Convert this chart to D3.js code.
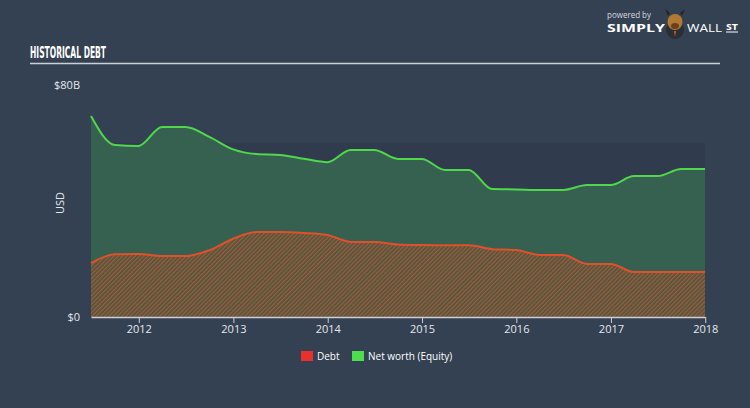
<!DOCTYPE html>
<html><head><meta charset="utf-8">
<script src="https://cdn.jsdelivr.net/npm/d3@7"></script>
<style>
html,body{margin:0;padding:0;background:#344152;}
svg{display:block;}
text{font-family:"Open Sans","DejaVu Sans",sans-serif;}
</style></head>
<body>
<svg id="c" width="750" height="408"></svg>
<script>
const dates = ["2011-06-30","2011-09-30","2011-12-31","2012-03-31","2012-06-30","2012-09-30","2012-12-31",
"2013-03-31","2013-06-30","2013-09-30","2013-12-31","2014-03-31","2014-06-30","2014-09-30","2014-12-31",
"2015-03-31","2015-06-30","2015-09-30","2015-12-31","2016-03-31","2016-06-30","2016-09-30","2016-12-31",
"2017-03-31","2017-06-30","2017-09-30","2017-12-31"];
const netWorth = [69.3,59.3,59.0,65.5,65.5,62.1,57.8,56.2,55.9,54.6,53.4,57.6,57.6,54.5,54.5,
50.7,50.7,44.1,44.0,43.8,43.8,45.5,45.5,48.6,48.6,51.0,51.0];
const debt = [18.6,21.6,21.7,21.0,21.0,23.0,27.0,29.3,29.3,29.0,28.3,25.9,25.9,25.0,24.8,
24.7,24.7,23.4,23.1,21.4,21.4,18.3,18.3,15.5,15.5,15.5,15.5];
const yTicks = [0, 80];
const yTickLabels = ["$0", "$80B"];
const xTickYears = [2012,2013,2014,2015,2016,2017,2018];
const seriesNames = ["Debt", "Net worth (Equity)"];

const svg = d3.select("#c");
const parse = d3.timeParse("%Y-%m-%d");
const rows = dates.map((d,i)=>({date:parse(d), nw:netWorth[i], debt:debt[i]}));

const x = d3.scaleTime().domain([parse("2011-06-30"), parse("2017-12-31")]).range([91, 705]);
const y = d3.scaleLinear().domain([0, 80]).range([317, 85]);

const defs = svg.append("defs");
const pat = defs.append("pattern").attr("id","hatch").attr("patternUnits","userSpaceOnUse")
  .attr("width",3).attr("height",3).attr("patternTransform","rotate(45)");
pat.append("rect").attr("width",3).attr("height",3).attr("fill","#3e5d48");
pat.append("rect").attr("width",1.3).attr("height",3).attr("fill","#b4532f");

// subtle plot band
svg.append("rect").attr("x",x.range()[0]).attr("width",x.range()[1]-x.range()[0])
  .attr("y",143).attr("height",y(0)-143).attr("fill","#303c4d");

// title
svg.append("text").attr("x",30).attr("y",58).text("HISTORICAL DEBT")
  .attr("fill","#ffffff").attr("font-size",15).attr("font-weight","bold")
  .style("font-family","'Liberation Sans Narrow','DejaVu Sans Condensed',sans-serif")
  .attr("textLength",76).attr("lengthAdjust","spacingAndGlyphs");
svg.append("line").attr("x1",30).attr("x2",720).attr("y1",63.5).attr("y2",63.5)
  .attr("stroke","#c9d0d8").attr("stroke-width",1.5);

// logo
const logo = svg.append("g");
logo.append("text").attr("x",607).attr("y",18).text("powered by").attr("fill","#d6dae0").attr("font-size",8.5)
  .attr("textLength",44).attr("lengthAdjust","spacingAndGlyphs");
logo.append("text").attr("x",607).attr("y",32).text("SIMPLY").attr("fill","#ffffff").attr("font-size",11).attr("font-weight","bold")
  .attr("textLength",58).attr("lengthAdjust","spacingAndGlyphs");
logo.append("text").attr("x",687).attr("y",32).text("WALL").attr("fill","#ffffff").attr("font-size",11)
  .attr("textLength",35).attr("lengthAdjust","spacingAndGlyphs");
logo.append("text").attr("x",726).attr("y",30).text("ST").attr("fill","#ffffff").attr("font-size",8).attr("font-weight","bold")
  .attr("textLength",12).attr("lengthAdjust","spacingAndGlyphs");
logo.append("line").attr("x1",726).attr("x2",738).attr("y1",32).attr("y2",32).attr("stroke","#fff").attr("stroke-width",1);
logo.append("circle").attr("cx",675).attr("cy",30).attr("r",9).attr("fill","#2a2f36");
logo.append("ellipse").attr("cx",675).attr("cy",22).attr("rx",7.5).attr("ry",8).attr("fill","#b07a32");
logo.append("ellipse").attr("cx",675).attr("cy",26).attr("rx",4).attr("ry",3).attr("fill","#6b4020");
logo.append("path").attr("d","M668,16 L665,9 L670,13 Z M682,16 L685,9 L680,13 Z").attr("fill","#2a2420");
logo.append("path").attr("d","M674,31 L676,31 L675,37 Z").attr("fill","#e05a20");

// areas
const areaNW = d3.area().x(d=>x(d.date)).y0(y(0)).y1(d=>y(d.nw)).curve(d3.curveMonotoneX);
const lineNW = d3.line().x(d=>x(d.date)).y(d=>y(d.nw)).curve(d3.curveMonotoneX);
const areaD = d3.area().x(d=>x(d.date)).y0(y(0)).y1(d=>y(d.debt)).curve(d3.curveMonotoneX);
const lineD = d3.line().x(d=>x(d.date)).y(d=>y(d.debt)).curve(d3.curveMonotoneX);

svg.append("path").datum(rows).attr("d",areaNW).attr("fill","#366150");
svg.append("path").datum(rows).attr("d",areaD).attr("fill","url(#hatch)");
svg.append("path").datum(rows).attr("d",lineNW).attr("fill","none").attr("stroke","#4fd84a").attr("stroke-width",2);
svg.append("path").datum(rows).attr("d",lineD).attr("fill","none").attr("stroke","#e0502a").attr("stroke-width",2);

// x axis
const xAxis = d3.axisBottom(x).tickValues(xTickYears.map(yr=>new Date(yr,0,1)))
  .tickFormat(d3.timeFormat("%Y")).tickSize(6).tickSizeOuter(0);
const gx = svg.append("g").attr("transform",`translate(0,${y(0)})`).call(xAxis);
gx.select(".domain").attr("stroke","#c9d0d8").attr("stroke-width",1.5);
gx.selectAll(".tick line").attr("stroke","#c9d0d8");
gx.selectAll(".tick text").attr("fill","#e4e8ec").attr("font-size",11).attr("dy","0.6em")
  .style("font-family","'Open Sans',sans-serif");

// y labels
svg.selectAll(".ylab").data(yTicks).enter().append("text")
  .attr("x",80).attr("y",d=>y(d)).attr("dy","0.35em").attr("text-anchor","end")
  .attr("fill","#e4e8ec").attr("font-size",11).text((d,i)=>yTickLabels[i]);
svg.append("text").attr("transform","translate(64,203) rotate(-90)").attr("text-anchor","middle")
  .attr("fill","#e4e8ec").attr("font-size",11).text("USD");

// legend
const legColors = ["#e8302c","#4cde4c"];
const legX = [301, 352];
const lg = svg.selectAll(".leg").data(seriesNames).enter().append("g")
  .attr("transform",(d,i)=>`translate(${legX[i]},351)`);
lg.append("rect").attr("width",12).attr("height",10).attr("fill",(d,i)=>legColors[i]);
lg.append("text").attr("x",16).attr("y",5).attr("dy","0.35em").attr("fill","#ffffff")
  .attr("font-size",10).text(d=>d);
</script>
</body></html>
